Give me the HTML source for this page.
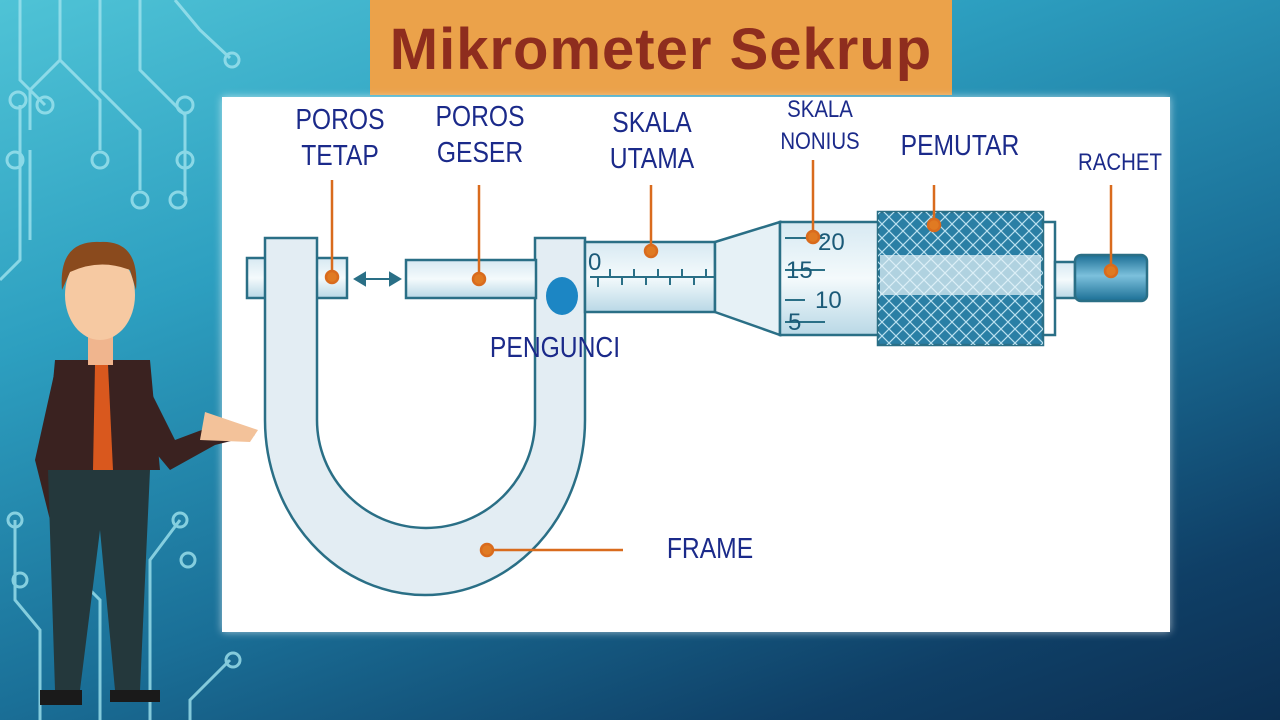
<!DOCTYPE html>
<html><head><meta charset="utf-8"><style>
html,body{margin:0;padding:0}
body{width:1280px;height:720px;overflow:hidden;position:relative;font-family:"Liberation Sans",sans-serif;
background:linear-gradient(160deg,#4fc3d6 0%,#2d9fc0 30%,#1a6f97 60%,#0f3f66 85%,#0c2f52 100%);}
.title{position:absolute;left:370px;top:0;width:582px;height:95px;background:#eba24a;color:#8e2d1e;font-weight:bold;font-size:58px;text-align:center;line-height:100px;letter-spacing:1px}
.panel{position:absolute;left:222px;top:97px;width:948px;height:535px;background:#fff;box-shadow:0 0 8px rgba(255,255,255,.6)}
.lbl{position:absolute;color:#1b2a8a;font-size:29px;text-align:center;line-height:36px;transform:scaleX(0.85)}
</style></head><body>
<svg width="1280" height="720" style="position:absolute;left:0;top:0" fill="none" stroke="#9fe3ee" stroke-width="3" opacity="0.8">
<path d="M20 0 V80 L45 105 M60 0 V60 L100 100 V150 M100 0 V90 L140 130 V190 M140 0 V70 L185 115 V200 M175 0 L200 30 L230 58 M20 105 V260 L0 280 M60 60 L30 90 V130 M30 150 V240"/>
<circle cx="45" cy="105" r="8"/><circle cx="100" cy="160" r="8"/><circle cx="140" cy="200" r="8"/><circle cx="185" cy="105" r="8"/><circle cx="232" cy="60" r="7"/><circle cx="18" cy="100" r="8"/><circle cx="15" cy="160" r="8"/><circle cx="185" cy="160" r="8"/><circle cx="178" cy="200" r="8"/>
<path d="M15 520 V600 L40 630 V720 M180 520 L150 560 V720 M230 660 L190 700 V720 M60 560 L100 600 V720"/>
<circle cx="15" cy="520" r="7"/><circle cx="180" cy="520" r="7"/><circle cx="233" cy="660" r="7"/><circle cx="20" cy="580" r="7"/><circle cx="188" cy="560" r="7"/>
</svg>
<div class="title">Mikrometer Sekrup</div>
<div class="panel"></div>
<svg width="1280" height="720" style="position:absolute;left:0;top:0">
<defs>
<linearGradient id="sh" x1="0" y1="0" x2="0" y2="1"><stop offset="0" stop-color="#d7e9f2"/><stop offset=".5" stop-color="#f4fafc"/><stop offset="1" stop-color="#b9d8e6"/></linearGradient>
<linearGradient id="kn" x1="0" y1="0" x2="0" y2="1"><stop offset="0" stop-color="#1b6f95"/><stop offset=".45" stop-color="#7cc0dc"/><stop offset="1" stop-color="#1b6f95"/></linearGradient>
<pattern id="hx" width="14" height="14" patternUnits="userSpaceOnUse"><path d="M0 0L14 14M14 0L0 14" stroke="#b9e0ef" stroke-width="1.2"/></pattern>
</defs>
<g stroke="#2a6f86" stroke-width="2.5">
<rect x="247" y="258" width="100" height="40" fill="url(#sh)"/>
<path d="M265 238 H317 V420 A109 108 0 0 0 535 420 V238 H585 V420 A160 175 0 0 1 265 420 Z" fill="#e3edf3"/>
<rect x="406" y="260" width="130" height="38" fill="url(#sh)"/>
<rect x="585" y="242" width="130" height="70" fill="url(#sh)"/>
<path d="M715 242 L780 222 V335 L715 312 Z" fill="#e6f1f6"/>
<rect x="780" y="222" width="100" height="113" fill="url(#sh)"/>
<rect x="878" y="212" width="165" height="133" fill="#2a7fa5"/>
<rect x="1043" y="222" width="12" height="113" fill="#fff"/>
<rect x="1055" y="262" width="20" height="36" fill="url(#sh)"/>
<rect x="1075" y="255" width="72" height="46" rx="6" fill="url(#kn)"/>
</g>
<rect x="878" y="212" width="165" height="133" fill="url(#hx)"/>
<rect x="880" y="255" width="161" height="40" fill="#eaf5fa" opacity=".7"/>
<ellipse cx="562" cy="296" rx="16" ry="19" fill="#1c86c4"/>
<g stroke="#2a6f86" stroke-width="2"><path d="M590 277 H715 M598 277 v10 M610 277v-8 M622 277v8 M634 277v-8 M646 277v8 M658 277v-8 M670 277v8 M682 277v-8 M694 277v8 M706 277v-8 M785 238 h40 M785 270 h40 M785 300 h20 M785 322 h40"/>
<path d="M355 279 H400" stroke-width="2"/><path d="M355 279 l10 -6 v12z M400 279 l-10 -6 v12z" fill="#2a6f86"/></g>
<g font-size="24" fill="#1b5a78" font-family="Liberation Sans"><text x="588" y="270">0</text><text x="818" y="250">20</text><text x="786" y="278">15</text><text x="815" y="308">10</text><text x="788" y="330">5</text></g>
<g stroke="#d96b1d" stroke-width="2.5" fill="#e07a22">
<line x1="332" y1="180" x2="332" y2="276"/><circle cx="332" cy="277" r="6"/>
<line x1="479" y1="185" x2="479" y2="278"/><circle cx="479" cy="279" r="6"/>
<line x1="651" y1="185" x2="651" y2="250"/><circle cx="651" cy="251" r="6"/>
<line x1="813" y1="160" x2="813" y2="236"/><circle cx="813" cy="237" r="6"/>
<line x1="934" y1="185" x2="934" y2="224"/><circle cx="934" cy="225" r="6"/>
<line x1="1111" y1="185" x2="1111" y2="270"/><circle cx="1111" cy="271" r="6"/>
<line x1="487" y1="550" x2="623" y2="550"/><circle cx="487" cy="550" r="6"/>
</g>
<!-- person -->
<g>
<path d="M55 360 L150 360 L160 470 L45 470 Z" fill="#3a2220"/>
<path d="M95 365 L108 365 L113 470 L100 480 L93 470 Z" fill="#d9581e"/>
<path d="M150 390 L175 440 L215 425 L255 435 L215 445 L170 470 L145 440 Z" fill="#3a2220"/>
<path d="M205 412 L258 430 L250 442 L200 440Z" fill="#f3c29a"/>
<path d="M55 370 L35 460 L55 540 L70 530 L55 460 L70 400Z" fill="#3a2220"/>
<circle cx="65" cy="540" r="9" fill="#f3c29a"/>
<path d="M48 470 L150 470 L140 690 L115 690 L100 530 L80 690 L55 690 Z" fill="#24383c"/>
<path d="M40 690 H82 V705 H40Z M110 690 H160 V702 H110Z" fill="#1a1a1a"/>
<rect x="88" y="330" width="25" height="35" fill="#f0b58e"/>
<ellipse cx="100" cy="295" rx="35" ry="45" fill="#f6c9a2"/>
<path d="M62 290 Q58 240 100 242 Q140 240 136 290 L130 270 Q100 258 70 272Z" fill="#8a4a1d"/>
</g>
</svg>
<div class="lbl" style="left:270px;top:102px;width:140px">POROS<br>TETAP</div>
<div class="lbl" style="left:410px;top:99px;width:140px">POROS<br>GESER</div>
<div class="lbl" style="left:582px;top:105px;width:140px">SKALA<br>UTAMA</div>
<div class="lbl" style="left:760px;top:94px;width:120px;font-size:24px;line-height:32px">SKALA<br>NONIUS</div>
<div class="lbl" style="left:870px;top:128px;width:180px">PEMUTAR</div>
<div class="lbl" style="left:1060px;top:145px;width:120px;font-size:24px">RACHET</div>
<div class="lbl" style="left:460px;top:330px;width:190px">PENGUNCI</div>
<div class="lbl" style="left:640px;top:531px;width:140px">FRAME</div>
</body></html>
